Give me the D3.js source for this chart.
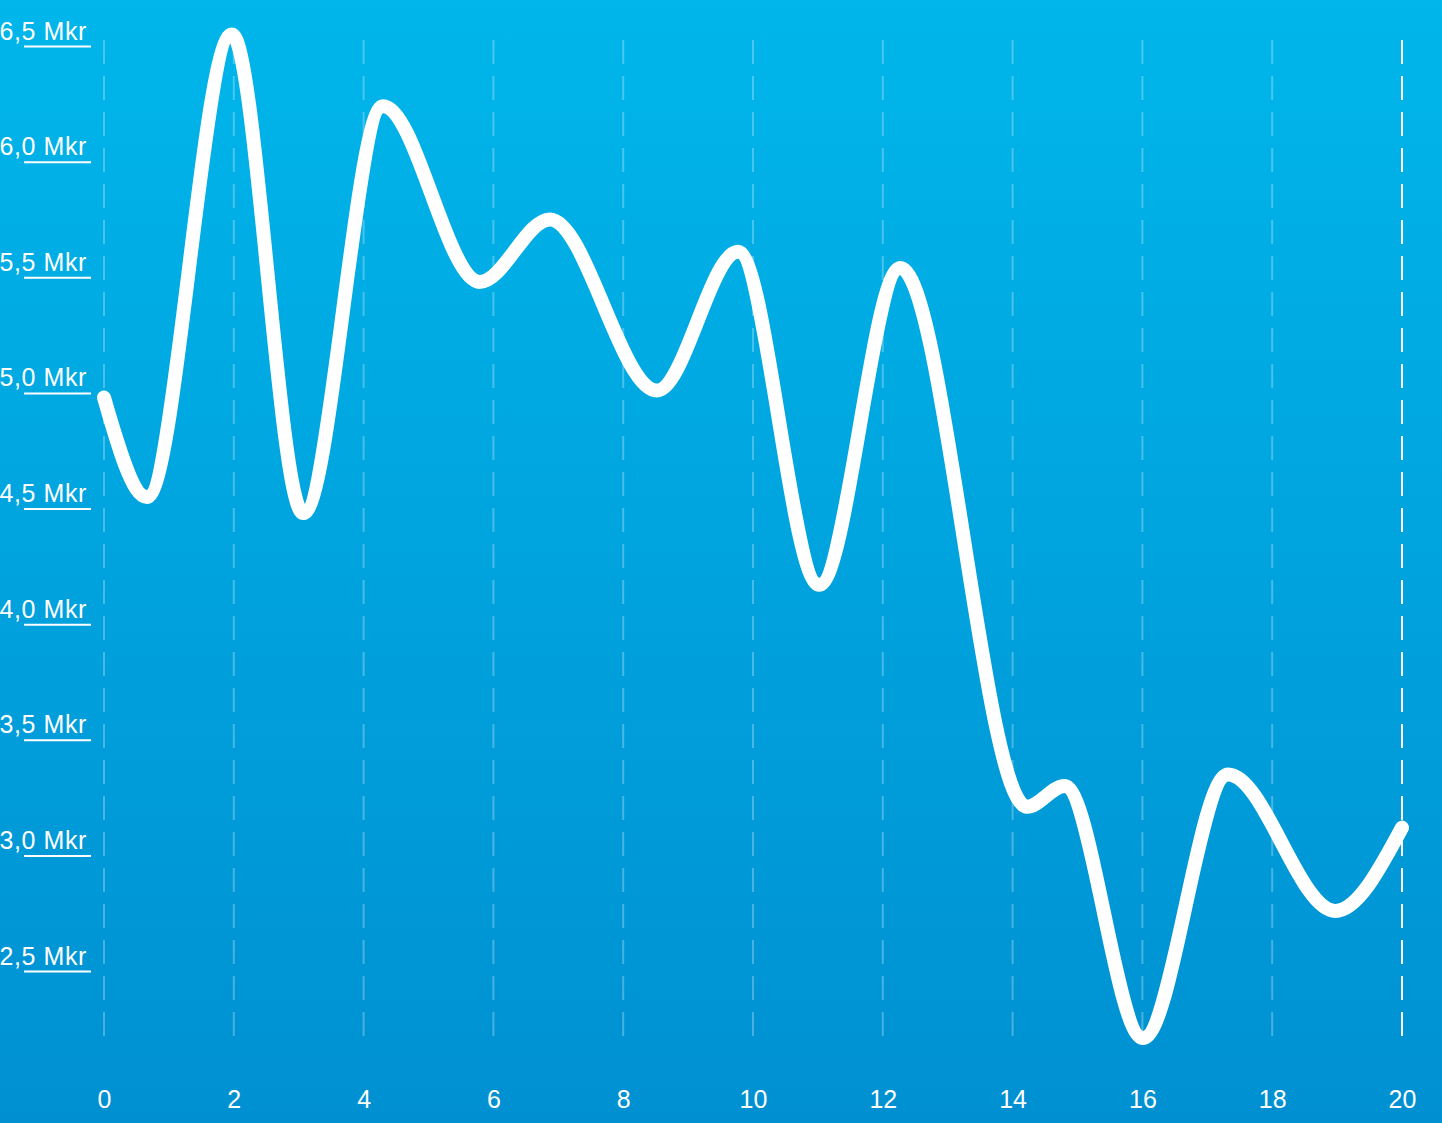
<!DOCTYPE html>
<html>
<head>
<meta charset="utf-8">
<script src="https://cdn.jsdelivr.net/npm/d3@7"></script>
<style>
  html, body { margin: 0; padding: 0; overflow: hidden; }
  svg { display: block; }
  text { font-family: "Liberation Sans", Arial, Helvetica, sans-serif; fill: #fff; }
</style>
</head>
<body>
<script>
// ---- data ----
const xValues = [0, 0.66, 1.97, 3.07, 4.3, 5.79, 6.87, 8.52, 9.77, 11.02, 12.27, 14.22, 14.8, 16.01, 17.32, 18.97, 20];
const yValues = [4.98, 4.55, 6.55, 4.48, 6.24, 5.48, 5.75, 5.01, 5.61, 4.17, 5.54, 3.21, 3.30, 2.21, 3.35, 2.76, 3.12];
const xTicks = [0, 2, 4, 6, 8, 10, 12, 14, 16, 18, 20];
const yTicks = [6.5, 6.0, 5.5, 5.0, 4.5, 4.0, 3.5, 3.0, 2.5];
const yTickLabels = ["6,5 Mkr", "6,0 Mkr", "5,5 Mkr", "5,0 Mkr", "4,5 Mkr", "4,0 Mkr", "3,5 Mkr", "3,0 Mkr", "2,5 Mkr"];

const W = 1442, H = 1123;
const svg = d3.select("body").append("svg").attr("width", W).attr("height", H);

const defs = svg.append("defs");
const grad = defs.append("linearGradient").attr("id", "bg").attr("x1", 0).attr("y1", 0).attr("x2", 0).attr("y2", 1);
grad.append("stop").attr("offset", "0%").attr("stop-color", "#00b6ea");
grad.append("stop").attr("offset", "100%").attr("stop-color", "#0090d2");
svg.append("rect").attr("width", W).attr("height", H).attr("fill", "url(#bg)");

const x = d3.scaleLinear().domain([0, 20]).range([104, 1402]);
const y = d3.scaleLinear().domain([2.5, 6.5]).range([971, 46]);

// vertical dashed gridlines
const gridTop = 40, gridBottom = 1040;
svg.append("g").selectAll("line").data(xTicks).join("line")
  .attr("x1", d => x(d)).attr("x2", d => x(d))
  .attr("y1", gridTop).attr("y2", gridBottom)
  .attr("stroke", "#fff")
  .attr("stroke-opacity", d => d === 20 ? 1 : 0.28)
  .attr("stroke-width", 2)
  .attr("stroke-dasharray", "24 12");

// x axis labels
const xAxis = d3.axisBottom(x).tickValues(xTicks).tickSize(0).tickPadding(0).tickFormat(d3.format("d"));
const gx = svg.append("g").attr("transform", "translate(0,1090)").call(xAxis);
gx.select(".domain").remove();
gx.selectAll("text").attr("font-size", 25).attr("fill", "#fff").attr("dy", "0.72em")
  .style("font-family", '"Liberation Sans", Arial, sans-serif');

// y axis: underline + label
const yAxis = d3.axisLeft(y).tickValues(yTicks).tickSize(0).tickPadding(0)
  .tickFormat((d, i) => yTickLabels[i]);
const gy = svg.append("g").attr("transform", "translate(87,0)").call(yAxis);
gy.select(".domain").remove();
gy.selectAll(".tick line").attr("x1", -63).attr("x2", 4).attr("stroke", "#fff").attr("stroke-width", 2);
gy.selectAll(".tick text").attr("font-size", 25).attr("fill", "#fff").attr("dy", "-7")
  .attr("x", 0).attr("text-anchor", "end")
  .style("letter-spacing", "0.6px")
  .style("font-family", '"Liberation Sans", Arial, sans-serif');

// line
const pts = xValues.map((v, i) => [v, yValues[i]]);
const line = d3.line().x(d => x(d[0])).y(d => y(d[1])).curve(d3.curveMonotoneX);
svg.append("path").datum(pts)
  .attr("d", line)
  .attr("fill", "none")
  .attr("stroke", "#fff")
  .attr("stroke-width", 14)
  .attr("stroke-linecap", "round")
  .attr("stroke-linejoin", "round");
</script>
</body>
</html>
